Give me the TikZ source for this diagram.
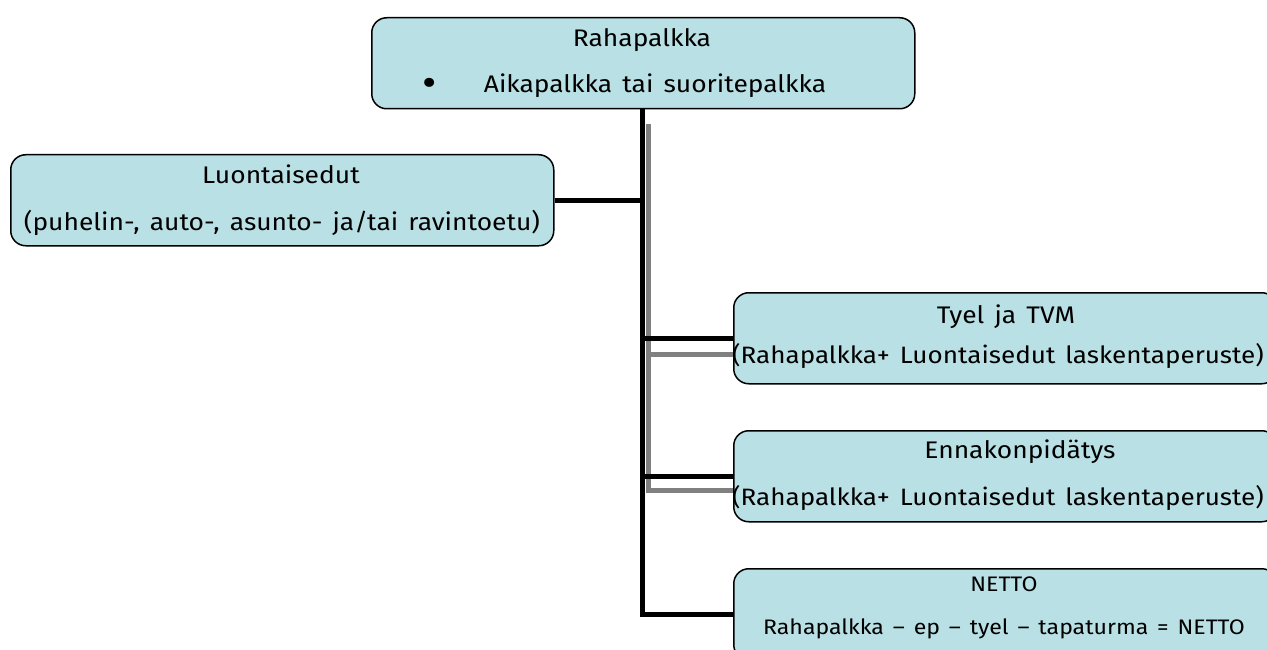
\documentclass[tikz,border=0pt]{standalone}
\usepackage{fontspec}
\setmainfont{Fira Sans}[FakeStretch=1.1, WordSpace={1.45}]
\definecolor{boxblue}{RGB}{185,224,228}
\definecolor{linegray}{RGB}{128,128,128}
\begin{document}
\begin{tikzpicture}[x=1pt,y=-1pt,
  box/.style={draw=black, line width=1.5pt, rounded corners=15pt, fill=boxblue,
    minimum width=543pt, minimum height=91pt, inner sep=0pt, anchor=north west},
  txt/.style={anchor=base, inner sep=0pt, font=\fontsize{24}{28}\selectfont},
  basistxt/.style={anchor=base, inner sep=0pt, font=\fontsize{23.7}{28}\selectfont},
  smalltxt/.style={anchor=base, inner sep=0pt, font=\fontsize{21}{25}\selectfont},
  blackline/.style={draw=black, line width=5pt},
  grayline/.style={draw=linegray, line width=5pt}]
\useasboundingbox (0,0) rectangle (1267,650);
\clip (0,0) rectangle (1267,650);

% boxes
\node[box] (raha) at (371,17) {};
\node[box] (luo) at (10,154) {};
\node[box] (tyel) at (733,292) {};
\node[box] (ennak) at (733,430) {};
\node[box] (netto) at (733,568) {};

% texts
\node[txt] (t1a) at (642,47) {Rahapalkka};
\node[txt] (t1b) at (655,93) {Aikapalkka tai suoritepalkka};
\node[anchor=center, inner sep=0pt, font=\fontsize{40}{40}\selectfont] (t1bul) at (430,87) {\textbullet};
\node[txt] (t2a) at (281,184) {Luontaisedut};
\node[txt] (t2b) at (282,230) {(puhelin-, auto-, asunto- ja/tai ravintoetu)};
\node[txt] (t3a) at (1006,323) {Tyel ja TVM};
\node[basistxt] (t3b) at (998,363) {(Rahapalkka+ Luontaisedut laskentaperuste)};
\node[txt] (t4a) at (1020,458) {Ennakonpidätys};
\node[basistxt] (t4b) at (998,505) {(Rahapalkka+ Luontaisedut laskentaperuste)};
\node[smalltxt] (t5a) at (1004,591) {NETTO};
\node[smalltxt] (t5b) at (1004,634) {Rahapalkka – ep – tyel – tapaturma = NETTO};

% connectors
\coordinate (gtop) at (648.5,124);
\coordinate (btrunk) at (642.5,0);
\draw[grayline] (gtop) |- ([yshift=-16pt]tyel.west);
\draw[grayline] (gtop) |- ([yshift=-14.5pt]ennak.west);
\draw[blackline] (raha.south -| btrunk) -- (netto.west -| btrunk) -- (netto.west);
\draw[blackline] (luo.east) -- (luo.east -| btrunk);
\draw[blackline] (tyel.west) -- (tyel.west -| btrunk);
\draw[blackline] (ennak.west) -- (ennak.west -| btrunk);
\end{tikzpicture}
\end{document}
